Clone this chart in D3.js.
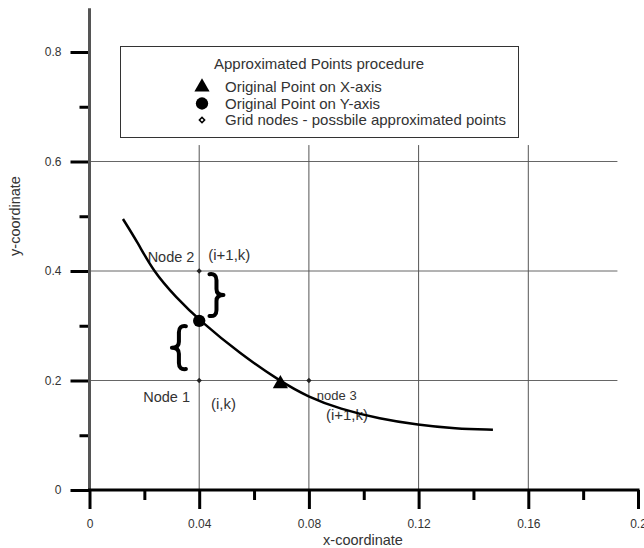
<!DOCTYPE html>
<html>
<head>
<meta charset="utf-8">
<script src="https://cdn.jsdelivr.net/npm/d3@7"></script>
<style>
  html, body { margin: 0; padding: 0; background: #fff; }
  svg { display: block; font-family: "Liberation Sans", Arial, sans-serif; }
</style>
</head>
<body>
<svg id="chart" width="644" height="548"></svg>
<script>
// Axis ticks
const xTicks = [0, 0.04, 0.08, 0.12, 0.16, 0.2];
const xMinorTicks = [0.02, 0.06, 0.1, 0.14, 0.18];
const yTicks = [0, 0.2, 0.4, 0.6, 0.8];
const yMinorTicks = [0.1, 0.3, 0.5, 0.7];

// Grid lines
const hGrid = [0.2, 0.4, 0.6];
const vGrid = [0.04, 0.08, 0.12, 0.16];
const hGridEnd = 0.1925;   // x value where horizontal grid lines stop
const vGridEnd = 0.63;     // y value where vertical grid lines stop

// Approximated curve
const curveX = [0.0122, 0.0177, 0.0232, 0.0315, 0.0403, 0.0549, 0.0694, 0.0797, 0.0913, 0.1059, 0.1198, 0.1333, 0.1471];
const curveY = [0.495, 0.451, 0.400, 0.352, 0.309, 0.249, 0.199, 0.170, 0.148, 0.130, 0.119, 0.112, 0.110];

// Original points
const pointOnX = [0.0696, 0.194];
const pointOnY = [0.04, 0.309];

// Grid nodes (possible approximated points)
const nodeX = [0.04, 0.04, 0.08];
const nodeY = [0.4, 0.2, 0.2];

// Node annotations: text, anchor x/y in data units
const noteText = ["Node 2", "(i+1,k)", "Node 1", "(i,k)", "node 3", "(i+1,k)"];
const noteX = [0.0212, 0.0433, 0.0196, 0.0443, 0.0829, 0.0862];
const noteY = [0.416, 0.42, 0.161, 0.148, 0.164, 0.128];
const noteSize = [14.5, 15, 14.5, 15, 13, 15];

// Braces between the Y-axis point and its neighbouring nodes
const braceX = [0.0463, 0.0326];
const braceTop = [0.396, 0.301];
const braceBottom = [0.316, 0.219];
const braceDir = [1, -1];

// Legend entries
const legendTitle = "Approximated Points procedure";
const legendLabels = ["Original Point on X-axis", "Original Point on Y-axis", "Grid nodes - possbile approximated points"];

const svg = d3.select("#chart");
const ink = "#333";

const x = d3.scaleLinear().domain([0, 0.2]).range([89.5, 638]);
const y = d3.scaleLinear().domain([0, 0.8]).range([490, 52]);

// Grid
svg.append("g").selectAll("line").data(hGrid).join("line")
  .attr("x1", x(0)).attr("x2", x(hGridEnd))
  .attr("y1", d => y(d)).attr("y2", d => y(d))
  .attr("stroke", "#666").attr("stroke-width", 1);
svg.append("g").selectAll("line").data(vGrid).join("line")
  .attr("x1", d => x(d)).attr("x2", d => x(d))
  .attr("y1", y(0)).attr("y2", y(vGridEnd))
  .attr("stroke", "#555").attr("stroke-width", 1);

// Axes
const xAxisMinor = d3.axisBottom(x).tickValues(xMinorTicks).tickSize(10).tickFormat("");
const xAxis = d3.axisBottom(x).tickValues(xTicks).tickSize(19).tickPadding(10).tickFormat(d3.format(""));
const yAxisMinor = d3.axisLeft(y).tickValues(yMinorTicks).tickSize(10).tickFormat("");
const yAxis = d3.axisLeft(y).tickValues(yTicks).tickSize(19).tickPadding(9).tickFormat(d3.format(""));

function styleAxis(g) {
  g.select(".domain").remove();
  g.selectAll(".tick line").attr("stroke", "#000").attr("stroke-width", 3);
  g.selectAll(".tick text").attr("fill", ink).attr("font-size", 12)
    .attr("font-family", "'Liberation Sans', Arial, sans-serif");
}
svg.append("g").attr("transform", `translate(0,${y(0)})`).call(xAxisMinor).call(styleAxis);
svg.append("g").attr("transform", `translate(0,${y(0)})`).call(xAxis).call(styleAxis);
svg.append("g").attr("transform", `translate(${x(0)},0)`).call(yAxisMinor).call(styleAxis);
svg.append("g").attr("transform", `translate(${x(0)},0)`).call(yAxis).call(styleAxis);

// Axis lines
svg.append("line")
  .attr("x1", x(0)).attr("x2", x(0)).attr("y1", y(0)).attr("y2", y(0.88))
  .attr("stroke", "#555").attr("stroke-width", 3);
svg.append("line")
  .attr("x1", x(0) - 1.5).attr("x2", x(0.2) + 1.5).attr("y1", y(0)).attr("y2", y(0))
  .attr("stroke", "#000").attr("stroke-width", 3);

// Axis titles
svg.append("text").attr("x", 363).attr("y", 545).attr("text-anchor", "middle")
  .attr("font-size", 14.5).attr("fill", ink).text("x-coordinate");
svg.append("text").attr("transform", "translate(20,216) rotate(-90)").attr("text-anchor", "middle")
  .attr("font-size", 14.5).attr("fill", ink).text("y-coordinate");

// Node annotations (drawn beneath the curve)
svg.append("g").selectAll("text").data(noteText).join("text")
  .attr("x", (d, i) => x(noteX[i])).attr("y", (d, i) => y(noteY[i]))
  .attr("font-size", (d, i) => noteSize[i]).attr("fill", ink).text(d => d);

// Curve
const curvePts = curveX.map((v, i) => [v, curveY[i]]);
svg.append("path")
  .attr("d", d3.line().x(d => x(d[0])).y(d => y(d[1])).curve(d3.curveBasis)(curvePts))
  .attr("fill", "none").attr("stroke", "#000").attr("stroke-width", 2.5);

// Grid nodes
svg.append("g").selectAll("path").data(nodeX).join("path")
  .attr("transform", (d, i) => `translate(${x(d)},${y(nodeY[i])}) rotate(45)`)
  .attr("d", d3.symbol(d3.symbolSquare, 14)())
  .attr("fill", "#222");

// Original points
svg.append("path")
  .attr("transform", `translate(${x(pointOnX[0])},${y(pointOnX[1])})`)
  .attr("d", d3.symbol(d3.symbolTriangle, 100)()).attr("fill", "#000");
svg.append("path")
  .attr("transform", `translate(${x(pointOnY[0])},${y(pointOnY[1])})`)
  .attr("d", d3.symbol(d3.symbolCircle, 120)()).attr("fill", "#000");

// Braces
function bracePath(cx, top, bottom, dir) {
  const p = d3.path();
  const mid = (top + bottom) / 2;
  const w = 7;
  p.moveTo(cx - w * dir, top + 1);
  p.quadraticCurveTo(cx, top, cx, top + 7);
  p.lineTo(cx, mid - 6);
  p.quadraticCurveTo(cx, mid, cx + w * dir, mid);
  p.quadraticCurveTo(cx, mid, cx, mid + 6);
  p.lineTo(cx, bottom - 7);
  p.quadraticCurveTo(cx, bottom, cx - w * dir, bottom - 1);
  return p.toString();
}
svg.append("g").selectAll("path").data(braceX).join("path")
  .attr("d", (d, i) => bracePath(x(d), y(braceTop[i]), y(braceBottom[i]), braceDir[i]))
  .attr("fill", "none").attr("stroke", "#000").attr("stroke-width", 4)
  .attr("stroke-linecap", "round").attr("stroke-linejoin", "round");

// Legend
const legend = svg.append("g");
legend.append("rect").attr("x", 120.5).attr("y", 46.5).attr("width", 398).attr("height", 91)
  .attr("fill", "#fff").attr("stroke", ink).attr("stroke-width", 1);
legend.append("text").attr("x", 319).attr("y", 69).attr("text-anchor", "middle")
  .attr("font-size", 15).attr("fill", ink).text(legendTitle);
const legendSymbols = [
  { type: d3.symbolTriangle, size: 100, fill: "#000", stroke: "none", rot: 0 },
  { type: d3.symbolCircle, size: 120, fill: "#000", stroke: "none", rot: 0 },
  { type: d3.symbolSquare, size: 14, fill: "#fff", stroke: "#000", rot: 45 }
];
legendLabels.forEach((label, i) => {
  const cy = 87 + i * 16.5;
  const s = legendSymbols[i];
  legend.append("path").attr("transform", `translate(202,${cy}) rotate(${s.rot})`)
    .attr("d", d3.symbol(s.type, s.size)())
    .attr("fill", s.fill).attr("stroke", s.stroke).attr("stroke-width", 1.5);
  legend.append("text").attr("x", 225).attr("y", cy + 5)
    .attr("font-size", 15).attr("fill", ink).text(label);
});
</script>
</body>
</html>
